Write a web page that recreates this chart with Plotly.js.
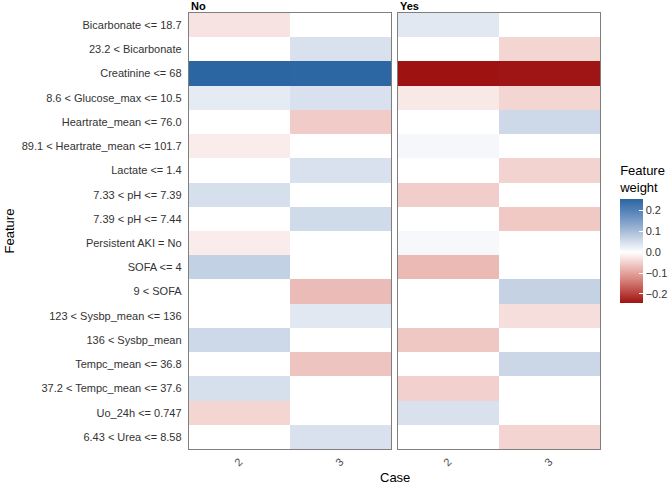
<!DOCTYPE html>
<html>
<head>
<meta charset="utf-8">
<script src="https://cdn.plot.ly/plotly-3.0.1.min.js"></script>
<style>html,body{margin:0;padding:0;background:#fff;}#chart{width:669px;height:491px;}</style>
</head>
<body>
<div id="chart"></div>
<script>
const features = [
  "Bicarbonate <= 18.7",
  "23.2 < Bicarbonate",
  "Creatinine <= 68",
  "8.6 < Glucose_max <= 10.5",
  "Heartrate_mean <= 76.0",
  "89.1 < Heartrate_mean <= 101.7",
  "Lactate <= 1.4",
  "7.33 < pH <= 7.39",
  "7.39 < pH <= 7.44",
  "Persistent AKI = No",
  "SOFA <= 4",
  "9 < SOFA",
  "123 < Sysbp_mean <= 136",
  "136 < Sysbp_mean",
  "Tempc_mean <= 36.8",
  "37.2 < Tempc_mean <= 37.6",
  "Uo_24h <= 0.747",
  "6.43 < Urea <= 8.58"
];
const cases = ["2", "3"];
const facets = ["No", "Yes"];

// Feature weights (null = feature not selected for that case)
const noCase2  = [-0.030, null, 0.255, 0.030, null, -0.020, null, 0.048, null, -0.020, 0.070, null, null, 0.058, null, 0.048, -0.045, null];
const noCase3  = [null, 0.045, 0.253, 0.045, -0.055, null, 0.045, null, 0.055, null, null, -0.072, 0.035, null, -0.063, null, null, 0.045];
const yesCase2 = [0.035, null, -0.243, -0.025, null, 0.012, null, -0.052, null, 0.010, -0.074, null, null, -0.060, null, -0.050, 0.045, null];
const yesCase3 = [null, -0.045, -0.241, -0.045, 0.058, null, -0.047, null, -0.058, null, null, 0.068, -0.035, null, 0.060, null, null, -0.046];

const colorbarTicks = [0.2, 0.1, 0.0, -0.1, -0.2];

const zNo = features.map((f, i) => [noCase2[i], noCase3[i]]);
const zYes = features.map((f, i) => [yesCase2[i], yesCase3[i]]);

const allVals = [].concat(noCase2, noCase3, yesCase2, yesCase3).filter(v => v !== null);
const zmin = Math.min(...allVals);
const zmax = Math.max(...allVals);
const mid = -zmin / (zmax - zmin);

const colorscale = [
  [0, '#9E1212'],
  [mid * 0.25, '#C0504A'],
  [mid * 0.5, '#DC8E88'],
  [mid * 0.75, '#EFC6C2'],
  [mid, '#FFFFFF'],
  [mid + (1 - mid) * 0.25, '#C8D5E6'],
  [mid + (1 - mid) * 0.5, '#8FABCF'],
  [mid + (1 - mid) * 0.75, '#5A86BA'],
  [1, '#2B65A2']
];

const font = "Liberation Sans, Arial, sans-serif";

const common = {
  type: 'heatmap',
  x: cases,
  y: features,
  zmin: zmin,
  zmax: zmax,
  colorscale: colorscale,
  xgap: 0, ygap: 0,
  hoverongaps: false
};

const traces = [
  Object.assign({}, common, {
    z: zNo, xaxis: 'x', yaxis: 'y',
    showscale: true,
    colorbar: {
      title: {text: 'Feature<br>weight', side: 'top', font: {family: font, size: 13, color: '#000'}},
      tickvals: colorbarTicks,
      tickformat: '.1f',
      ticks: 'inside', ticklen: 4, tickcolor: '#ffffff', tickwidth: 1,
      tickfont: {family: font, size: 11, color: '#333'},
      thickness: 23, thicknessmode: 'pixels',
      len: 141, lenmode: 'pixels',
      x: 1.049, xanchor: 'left', xpad: 0,
      y: 0.4966, yanchor: 'middle', ypad: 0,
      outlinewidth: 0
    }
  }),
  Object.assign({}, common, {
    z: zYes, xaxis: 'x2', yaxis: 'y2',
    showscale: false
  })
];

const xaxisBase = {
  type: 'category',
  categoryarray: cases,
  showline: true, mirror: true, linecolor: '#7f7f7f', linewidth: 1.2,
  showgrid: false, zeroline: false,
  ticks: '', tickangle: -45,
  tickfont: {family: font, size: 11, color: '#4d4d4d'},
  ticklabelstandoff: 1
};
const yaxisBase = {
  type: 'category',
  categoryarray: features,
  autorange: 'reversed',
  showline: true, mirror: true, linecolor: '#7f7f7f', linewidth: 1.2,
  showgrid: false, zeroline: false,
  ticks: '',
  tickfont: {family: font, size: 11, color: '#333'},
  ticklabelstandoff: 4
};

const layout = {
  width: 669, height: 491,
  margin: {l: 189, r: 69, t: 13, b: 42, autoexpand: false},
  paper_bgcolor: '#ffffff',
  plot_bgcolor: '#ffffff',
  showlegend: false,
  xaxis: Object.assign({}, xaxisBase, {domain: [0, 0.4915], anchor: 'y'}),
  xaxis2: Object.assign({}, xaxisBase, {domain: [0.5085, 1], anchor: 'y2'}),
  yaxis: Object.assign({}, yaxisBase, {anchor: 'x'}),
  yaxis2: Object.assign({}, yaxisBase, {anchor: 'x2', matches: 'y', showticklabels: false}),
  annotations: [
    {text: '<b>' + facets[0] + '</b>', xref: 'x domain', yref: 'y domain', x: 0, y: 1, xanchor: 'left', yanchor: 'bottom', yshift: -1, showarrow: false, font: {family: font, size: 11, color: '#000'}},
    {text: '<b>' + facets[1] + '</b>', xref: 'x2 domain', yref: 'y2 domain', x: 0, y: 1, xanchor: 'left', yanchor: 'bottom', yshift: -1, showarrow: false, font: {family: font, size: 11, color: '#000'}},
    {text: 'Case', xref: 'paper', yref: 'paper', x: 0.5, y: -0.0665, xanchor: 'center', yanchor: 'middle', showarrow: false, font: {family: font, size: 13, color: '#000'}},
    {text: 'Feature', xref: 'paper', yref: 'paper', x: -0.437, y: 0.5, xanchor: 'center', yanchor: 'middle', textangle: -90, showarrow: false, font: {family: font, size: 13, color: '#000'}}
  ]
};

Plotly.newPlot('chart', traces, layout, {displayModeBar: false, staticPlot: true});
</script>
</body>
</html>
